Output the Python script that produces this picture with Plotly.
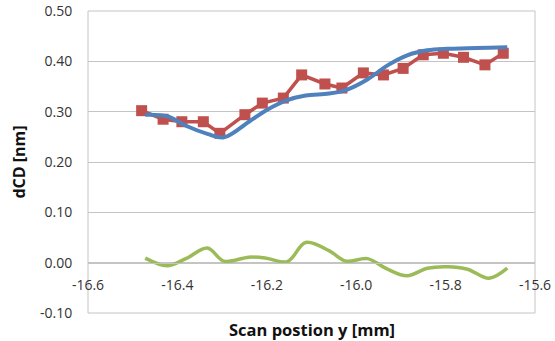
import plotly.graph_objects as go

# Measured data (red squares)
scan_y = [-16.480, -16.432, -16.390, -16.342, -16.305, -16.249, -16.210, -16.163,
          -16.122, -16.070, -16.032, -15.984, -15.939, -15.895, -15.850, -15.805,
          -15.760, -15.712, -15.671]
dcd_meas = [0.302, 0.285, 0.280, 0.280, 0.257, 0.294, 0.317, 0.327, 0.373, 0.355,
            0.347, 0.377, 0.373, 0.386, 0.413, 0.416, 0.408, 0.393, 0.416]

# Fit curve (blue) and residual (green)
fit_y = [-16.472, -16.423, -16.381, -16.333, -16.296, -16.240, -16.201, -16.154,
         -16.113, -16.061, -16.023, -15.975, -15.930, -15.886, -15.841, -15.796,
         -15.751, -15.703, -15.662]
dcd_fit = [0.294, 0.291, 0.272, 0.256, 0.249, 0.280, 0.303, 0.323, 0.332, 0.336,
           0.343, 0.364, 0.392, 0.412, 0.422, 0.425, 0.426, 0.427, 0.428]
dcd_resid = [0.009, -0.006, 0.008, 0.029, 0.003, 0.011, 0.009, 0.002, 0.040, 0.024,
             0.003, 0.008, -0.013, -0.026, -0.011, -0.008, -0.013, -0.031, -0.011]

x_ticks = [-16.6, -16.4, -16.2, -16.0, -15.8, -15.6]
x_tick_labels = ["-16.6", "-16.4", "-16.2", "-16.0", "-15.8", "-15.6"]
y_ticks = [-0.10, 0.00, 0.10, 0.20, 0.30, 0.40, 0.50]
y_tick_labels = ["-0.10", "0.00", "0.10", "0.20", "0.30", "0.40", "0.50"]

x_range = [-16.6, -15.6]
y_range = [-0.10, 0.50]

fig = go.Figure()
fig.add_trace(go.Scatter(x=scan_y, y=dcd_meas, mode="lines+markers",
                         line=dict(color="#C0504D", width=3.5),
                         marker=dict(symbol="square", size=11, color="#C0504D"),
                         showlegend=False))
fig.add_trace(go.Scatter(x=fit_y, y=dcd_fit, mode="lines",
                         line=dict(color="#4F81BD", width=4, shape="spline"),
                         showlegend=False))
fig.add_trace(go.Scatter(x=fit_y, y=dcd_resid, mode="lines",
                         line=dict(color="#9BBB59", width=3.5, shape="spline"),
                         showlegend=False))

grid = "#C4C4C4"
fig.update_layout(
    width=555, height=341,
    margin=dict(l=88, r=20, t=11, b=28, autoexpand=False),
    paper_bgcolor="white", plot_bgcolor="white",
    font=dict(family="Open Sans", size=14, color="#333333"),
    xaxis=dict(range=x_range, tickvals=x_ticks, ticktext=x_tick_labels,
               showgrid=False, zeroline=False, automargin=False,
               anchor="free", position=(0 - y_range[0]) / (y_range[1] - y_range[0]),
               showline=True, linecolor=grid, linewidth=1,
               ticks="outside", ticklen=10, tickcolor="rgba(0,0,0,0)",
               tickfont=dict(size=14)),
    yaxis=dict(range=y_range, tickvals=y_ticks, ticktext=y_tick_labels,
               showgrid=True, gridcolor=grid, gridwidth=1, zeroline=False,
               showline=False, automargin=False,
               ticks="outside", ticklen=12, tickcolor="rgba(0,0,0,0)",
               tickfont=dict(size=14),
               title=dict(text="<b>dCD [nm]</b>", font=dict(size=16, color="#111111"),
                          standoff=10)),
    shapes=[dict(type="rect", xref="paper", yref="paper", x0=0, x1=1, y0=0, y1=1,
                 line=dict(color=grid, width=1), layer="below")],
    annotations=[dict(text="<b>Scan postion y [mm]</b>", xref="paper", yref="paper",
                      x=0.5, y=0, yshift=-16, yanchor="middle", showarrow=False,
                      font=dict(size=16.5, color="#111111"))],
)

fig.write_html("out.html")
